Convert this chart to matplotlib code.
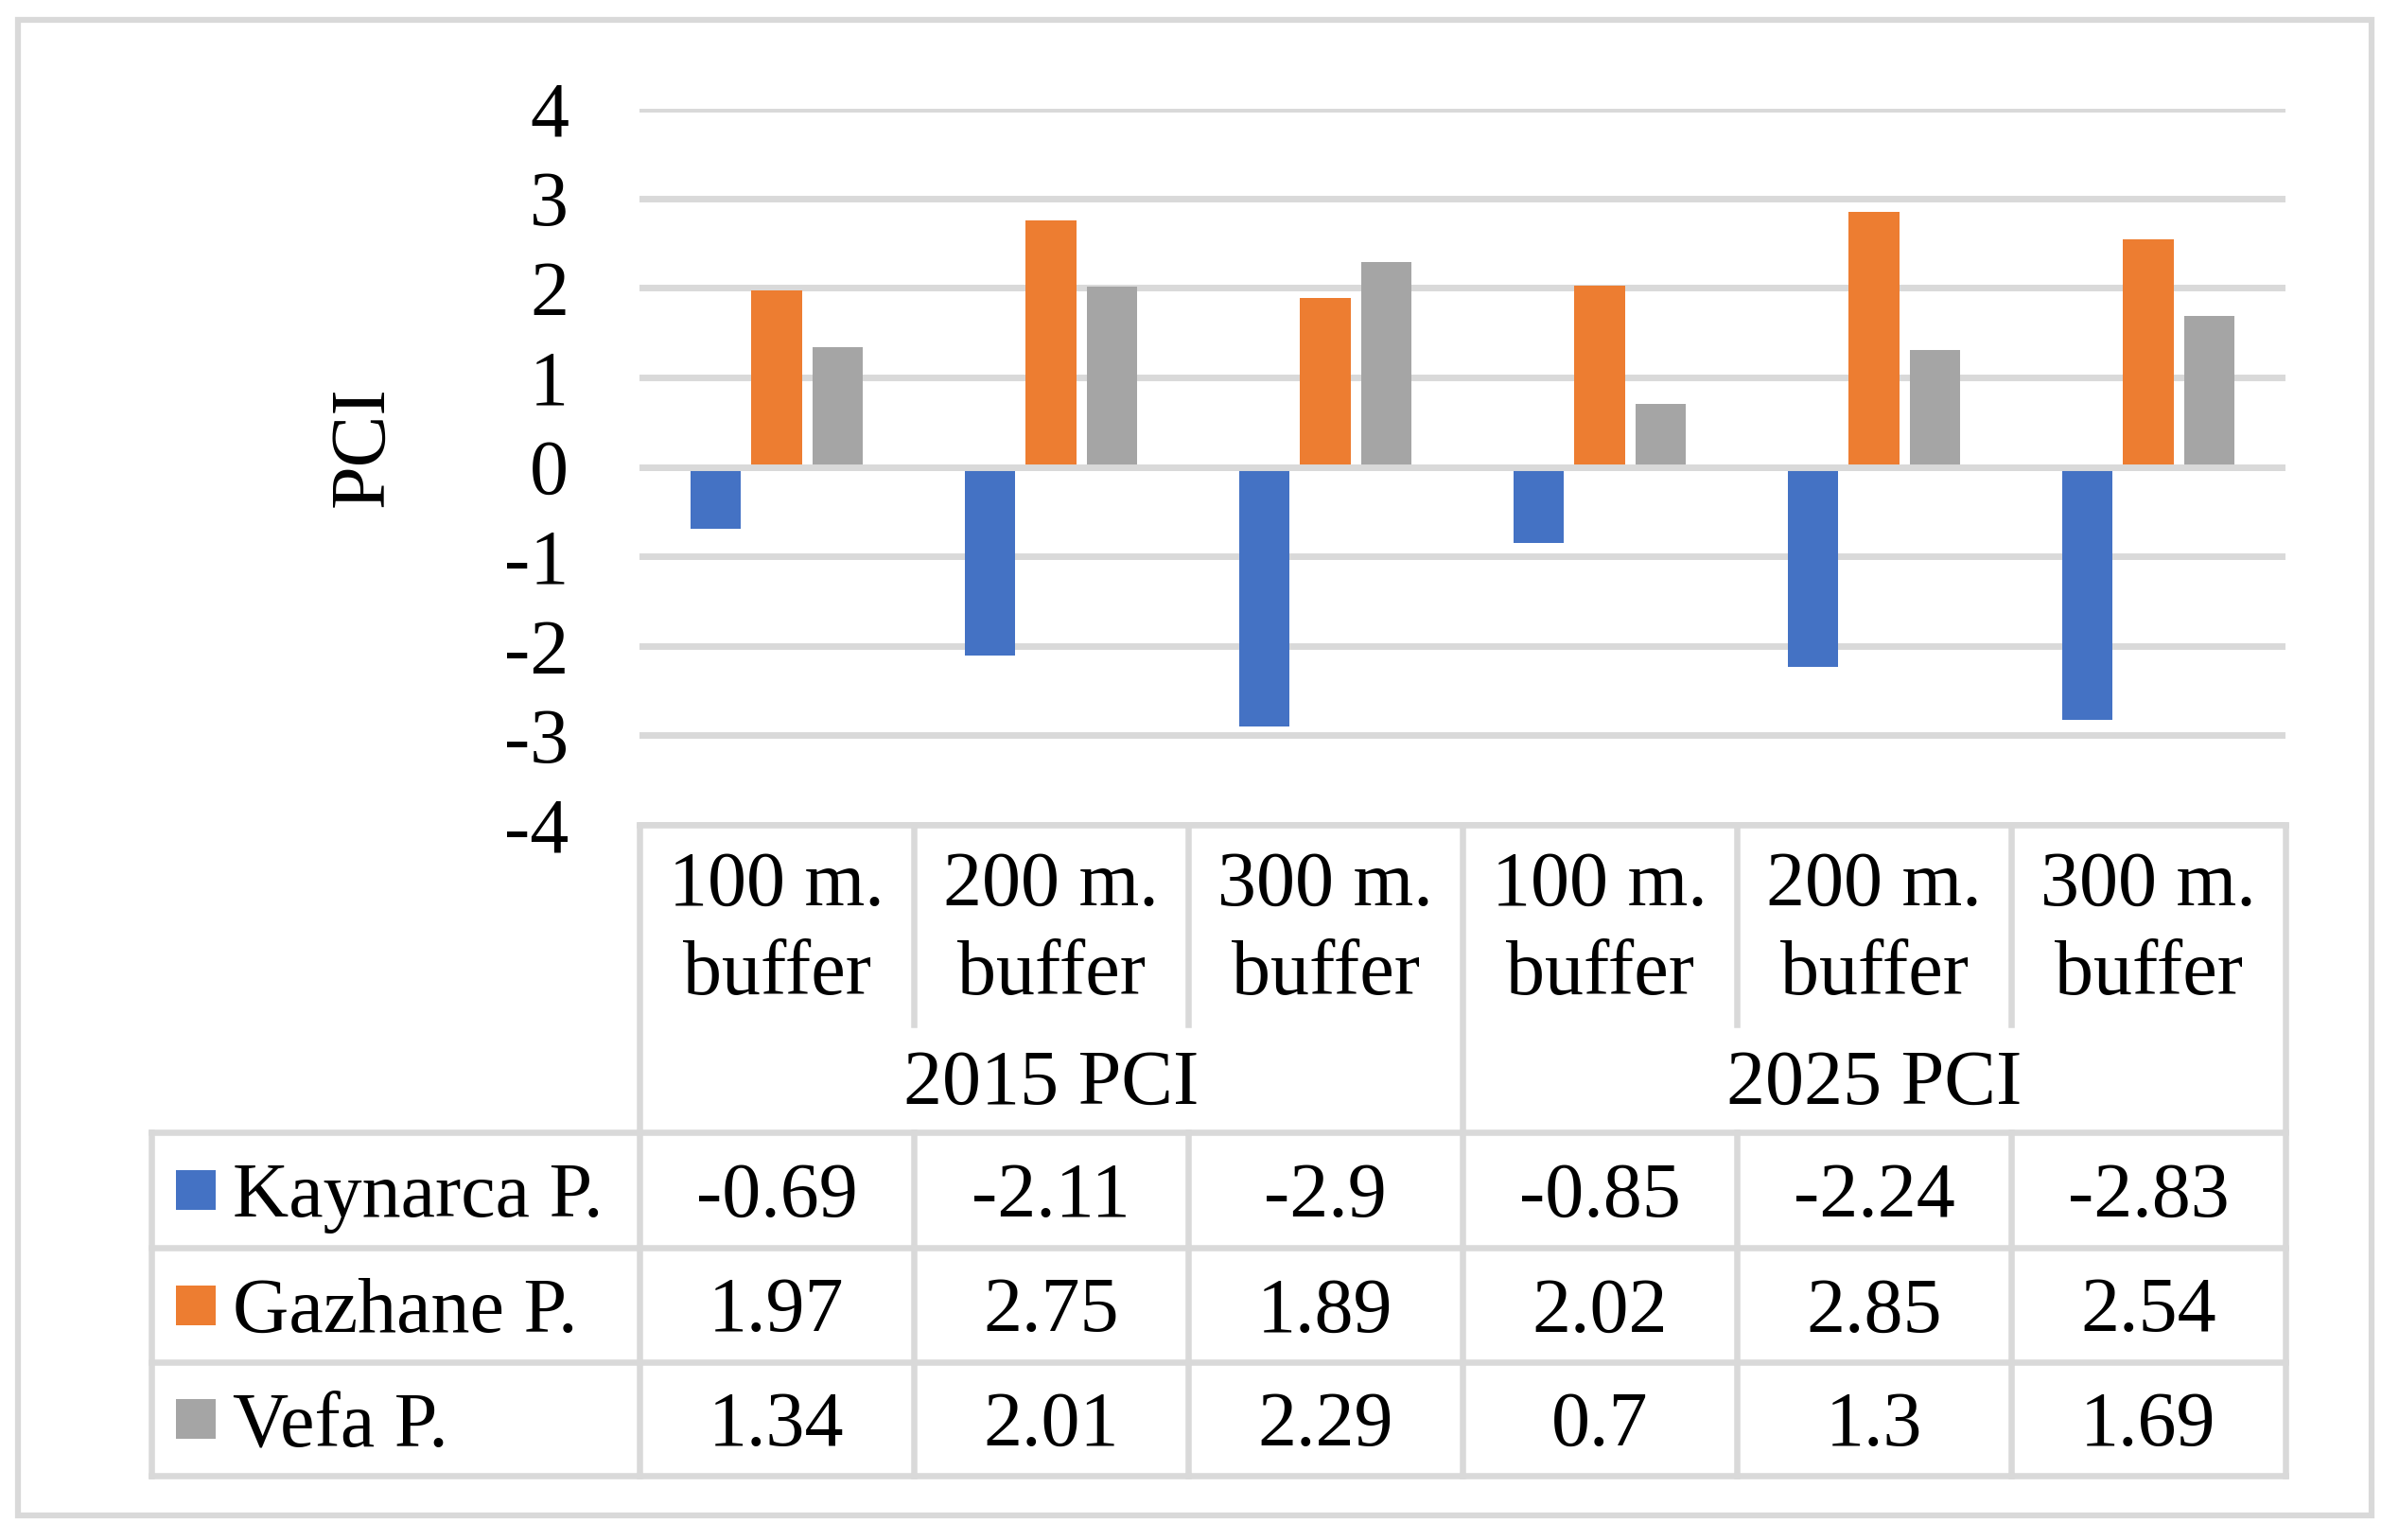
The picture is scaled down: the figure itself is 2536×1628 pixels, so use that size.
import matplotlib
matplotlib.use("Agg")
import matplotlib.pyplot as plt
from matplotlib.patches import Rectangle
from matplotlib.transforms import blended_transform_factory

# ---- data ----
buffers = ["100 m.", "200 m.", "300 m.", "100 m.", "200 m.", "300 m."]
buffer_word = "buffer"
groups = ["2015 PCI", "2025 PCI"]
series_names = ["Kaynarca P.", "Gazhane P.", "Vefa P."]
kaynarca = [-0.69, -2.11, -2.9, -0.85, -2.24, -2.83]
gazhane = [1.97, 2.75, 1.89, 2.02, 2.85, 2.54]
vefa = [1.34, 2.01, 2.29, 0.7, 1.3, 1.69]
value_labels = [["-0.69", "-2.11", "-2.9", "-0.85", "-2.24", "-2.83"],
                ["1.97", "2.75", "1.89", "2.02", "2.85", "2.54"],
                ["1.34", "2.01", "2.29", "0.7", "1.3", "1.69"]]
colors = ["#4472C4", "#ED7D31", "#A5A5A5"]
yticks = [-4, -3, -2, -1, 0, 1, 2, 3, 4]

GRID = "#D9D9D9"
FONT = "Liberation Serif"
FS = 59
plt.rcParams["font.family"] = [FONT, "DejaVu Serif"]

W, H = 2536, 1628
fig = plt.figure(figsize=(W / 100, H / 100), dpi=100)
fig.patch.set_facecolor("white")

L, R, T, B = 676, 2416, 115, 872
ax = fig.add_axes([L / W, 1 - B / H, (R - L) / W, (B - T) / H])
ax.set_xlim(0, 6)
ax.set_ylim(-4, 4)
ax.patch.set_alpha(0)

n = len(buffers)
offsets = [-0.222, 0.0, 0.222]
bw = 0.184
for k, vals in enumerate([kaynarca, gazhane, vefa]):
    ax.bar([i + 0.5 + offsets[k] for i in range(n)], vals, width=bw,
           color=colors[k], zorder=2, linewidth=0)

ax.set_yticks(yticks)
ax.set_yticklabels([str(v) for v in yticks])
ax.set_xticks([])
ax.yaxis.grid(True, color=GRID, linewidth=5)
ax.set_axisbelow(True)
ax.axhline(0, color=GRID, linewidth=5, zorder=3)
for s in ax.spines.values():
    s.set_visible(False)
ax.tick_params(axis="y", length=0, pad=54, labelsize=FS)

# ---- overlay for table ----
ov = fig.add_axes([0, 0, 1, 1])
ov.set_xlim(0, W)
ov.set_ylim(H, 0)
ov.axis("off")
tr = blended_transform_factory(ax.transData, ov.transData)

LW = 4.7
y_top, y_inner, y_grp = 872, 1083, 1197
row_lines = [1197, 1319, 1440, 1560]
leg_left = 160

# outer border
ov.add_patch(Rectangle((19, 21), 2507 - 19, 1602 - 21, fill=False,
                       edgecolor=GRID, linewidth=4.5))

# horizontal lines
ov.plot([0, 6], [y_top, y_top], color=GRID, lw=LW, transform=tr, solid_capstyle="projecting")
for y in row_lines:
    ov.plot([leg_left, R], [y, y], color=GRID, lw=LW, solid_capstyle="projecting")
# vertical lines
for i in range(n + 1):
    if i in (0, 3, 6):
        ov.plot([i, i], [y_top, row_lines[-1]], color=GRID, lw=LW, transform=tr)
    else:
        ov.plot([i, i], [y_top, y_inner], color=GRID, lw=LW, transform=tr)
        ov.plot([i, i], [y_grp, row_lines[-1]], color=GRID, lw=LW, transform=tr)
ov.plot([leg_left, leg_left], [y_grp, row_lines[-1]], color=GRID, lw=LW)

# header text
for i, b in enumerate(buffers):
    ov.text(i + 0.5, 957, b, transform=tr, ha="center", va="baseline", fontsize=FS)
    ov.text(i + 0.5, 1051, buffer_word, transform=tr, ha="center", va="baseline", fontsize=FS)
for g, name in enumerate(groups):
    ov.text(g * 3 + 1.5, 1167, name, transform=tr, ha="center", va="baseline", fontsize=FS)

# data rows
for r in range(3):
    yc = (row_lines[r] + row_lines[r + 1]) / 2
    base = yc + 28
    for i in range(n):
        ov.text(i + 0.5, base, value_labels[r][i], transform=tr,
                ha="center", va="baseline", fontsize=FS)
    ov.add_patch(Rectangle((186, yc - 21), 42, 42, facecolor=colors[r], edgecolor="none"))
    ov.text(246, base, series_names[r], ha="left", va="baseline", fontsize=FS)

# y label
fig.text(385 / W, 1 - 472 / H, "PCI", rotation=90, ha="center", va="center", fontsize=FS)

fig.savefig("out.png", dpi=100, facecolor="white")
